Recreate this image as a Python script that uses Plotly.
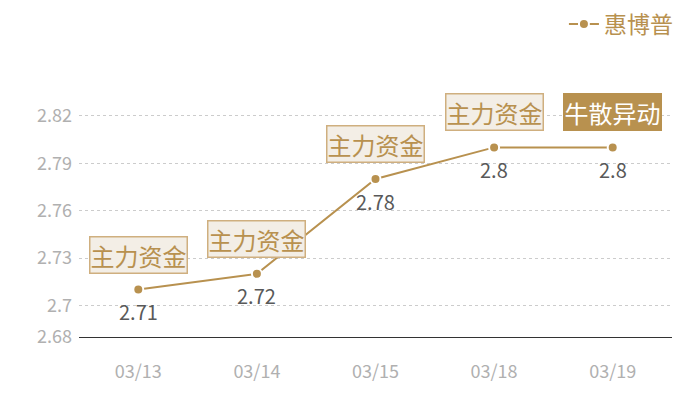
import plotly.graph_objects as go

dates = ["03/13", "03/14", "03/15", "03/18", "03/19"]
prices = [2.71, 2.72, 2.78, 2.80, 2.80]
value_labels = ["2.71", "2.72", "2.78", "2.8", "2.8"]
tags = ["主力资金", "主力资金", "主力资金", "主力资金", "牛散异动"]
tag_filled = [False, False, False, False, True]
series_name = "惠博普"
y_ticks = [2.68, 2.70, 2.73, 2.76, 2.79, 2.82, 2.83]
y_ticktext = ["2.68", "2.7", "2.73", "2.76", "2.79", "2.82", ""]

GOLD = "#B8914F"
FONT = "Noto Sans CJK SC"

fig = go.Figure()
fig.add_trace(go.Scatter(
    x=dates, y=prices, mode="lines+markers", name=series_name,
    line=dict(color=GOLD, width=2),
    marker=dict(size=10, color=GOLD, line=dict(color="white", width=2)),
))

for d, p, lab in zip(dates, prices, value_labels):
    fig.add_annotation(x=d, y=p, text=lab, showarrow=False, yshift=-22,
                       font=dict(family=FONT, size=20, color="#595959"))

for d, p, t, filled in zip(dates, prices, tags, tag_filled):
    fig.add_annotation(x=d, y=p, text=t, showarrow=False, yshift=35,
                       font=dict(family=FONT, size=24, color="white" if filled else GOLD),
                       bgcolor=GOLD if filled else "#F3EEE6",
                       bordercolor=GOLD if filled else "#CFAF7F",
                       borderwidth=1.5, borderpad=0)

fig.update_layout(
    width=700, height=400,
    margin=dict(l=79, r=28, t=100, b=63, autoexpand=False),
    paper_bgcolor="white", plot_bgcolor="white",
    font=dict(family=FONT),
    showlegend=True,
    legend=dict(x=1.01, y=1.32, xanchor="right", yanchor="middle",
                font=dict(family=FONT, size=23, color=GOLD),
                itemwidth=30, bgcolor="rgba(0,0,0,0)"),
    xaxis=dict(range=[-0.5, 4.5], showgrid=False, showline=True, linecolor="#333", linewidth=1,
               ticks="", tickfont=dict(family=FONT, size=18, color="#B0B0B0"),
               ticklabelstandoff=18, zeroline=False),
    yaxis=dict(range=[2.68, 2.83], tickvals=y_ticks, ticktext=y_ticktext,
               showgrid=True, gridcolor="#CCCCCC", griddash="dot", gridwidth=1,
               zeroline=False, showline=False, ticks="",
               tickfont=dict(family=FONT, size=18, color="#B0B0B0"),
               ticklabelstandoff=6),
)

fig.write_html("out.html", config={"displayModeBar": False},
               post_script="document.body.style.margin='0';")
